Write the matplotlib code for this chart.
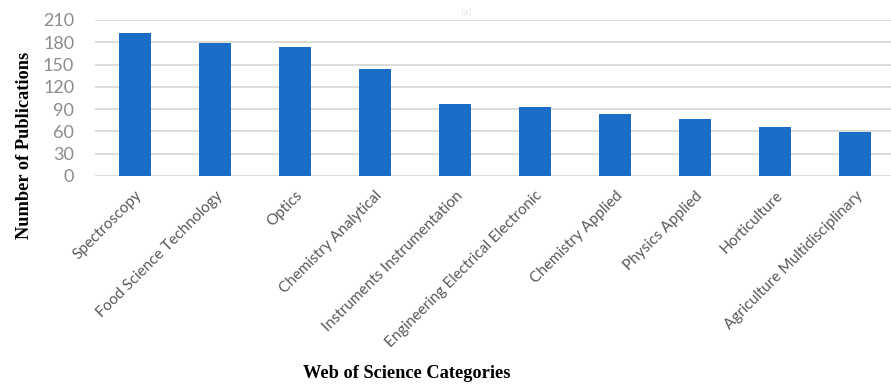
import matplotlib
matplotlib.use("Agg")
import matplotlib.pyplot as plt

categories = [
    "Spectroscopy",
    "Food Science Technology",
    "Optics",
    "Chemistry Analytical",
    "Instruments Instrumentation",
    "Engineering Electrical Electronic",
    "Chemistry Applied",
    "Physics Applied",
    "Horticulture",
    "Agriculture Multidisciplinary",
]
publications = [193, 179, 173, 144, 97, 93, 84, 77, 66, 59]
y_ticks = [0, 30, 60, 90, 120, 150, 180, 210]

W, H = 891, 385
fig = plt.figure(figsize=(W / 100, H / 100), dpi=100)
ax = fig.add_axes([95 / W, 1 - 176 / H, 800.5 / W, 156 / H])

x = range(len(categories))
ax.bar(x, publications, width=0.4, color="#1b6ec8", zorder=3)

ax.set_xlim(-0.5, len(categories) - 0.5)
ax.set_ylim(0, 210)
ax.set_yticks(y_ticks)
ax.set_yticklabels([str(v) for v in y_ticks], fontfamily="Lato",
                   fontsize=13, color="#8c8c8c")
ax.tick_params(axis="y", length=0, pad=15)
ax.grid(axis="y", color="#d9d9d9", linewidth=1.3, zorder=0)
ax.set_axisbelow(True)

ax.set_xticks(list(x))
ax.set_xticklabels(categories, rotation=45, ha="right", rotation_mode="anchor",
                   fontfamily="Lato", fontsize=11, color="#595959")
ax.tick_params(axis="x", length=0, pad=9)

for s in ax.spines.values():
    s.set_visible(False)

fig.text(25 / W, 1 - 145 / H, "Number of Publications", rotation=90,
         ha="center", va="center", fontfamily="Liberation Serif",
         fontweight="bold", fontsize=13.2)
fig.text(407 / W, 1 - 373 / H, "Web of Science Categories",
         ha="center", va="center", fontfamily="Liberation Serif",
         fontweight="bold", fontsize=13.2)
fig.text(466 / W, 1 - 12 / H, "(a)", ha="center", va="center",
         fontsize=6, color="#e6e6e6")

fig.savefig("out.png", dpi=100)
